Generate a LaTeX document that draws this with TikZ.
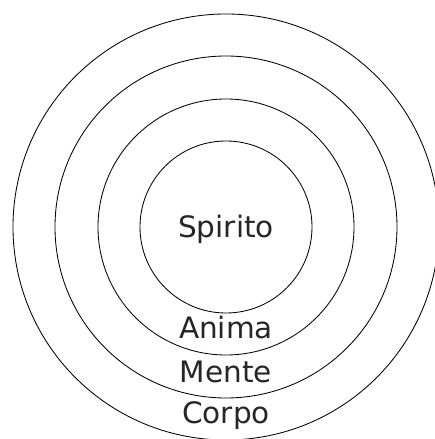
\documentclass[tikz,border=0pt]{standalone}
\usepackage{fontspec}
\setmainfont{DejaVu Sans}
\usepackage{tikz}
\usetikzlibrary{positioning}

\begin{document}
\begin{tikzpicture}
\tikzstyle{ring} = [circle, draw, line width=0.6pt, inner sep=0pt]
\tikzstyle{label} = [font=\fontsize{21}{24}\selectfont, text=black!85, anchor=base, inner sep=0pt]

\useasboundingbox (-5.65,-5.3) rectangle (5.2,5.675);

\node [ring, minimum size=10.65cm] (corpoc) at (0,0) {};
\node [ring, minimum size=8.55cm] (mentec) at (0,0) {};
\node [ring, minimum size=6.4cm] (animac) at (0,0) {};
\node [ring, minimum size=4.3cm] (spiritoc) at (0,0) {};

\node [label] (spirito) at (0,-0.275) {Spirito};
\node [label] (anima) at (0,-2.775) {Anima};
\node [label] (mente) at (0,-3.875) {Mente};
\node [label] (corpo) at (0,-4.9) {Corpo};

\end{tikzpicture}
\end{document}
